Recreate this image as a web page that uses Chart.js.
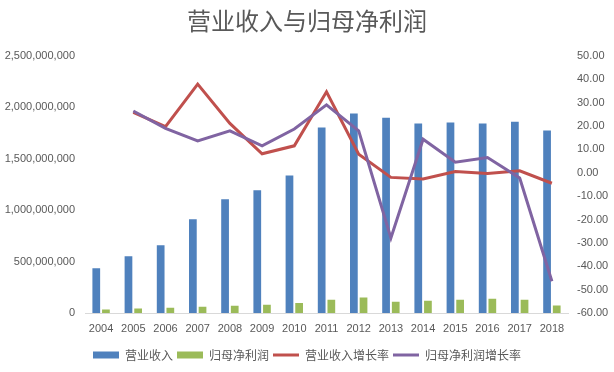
<!DOCTYPE html>
<html>
<head>
<meta charset="utf-8">
<title>营业收入与归母净利润</title>
<script src="https://cdn.jsdelivr.net/npm/chart.js@4"></script>
<style>
    html, body { margin: 0; padding: 0; background: #ffffff; }
    .chart-box { width: 614px; height: 372px; position: relative; }
</style>
</head>
<body>
<div class="chart-box"><canvas id="revenue-chart"></canvas></div>
<script>
// Chart data
const years = ['2004', '2005', '2006', '2007', '2008', '2009', '2010', '2011',
    '2012', '2013', '2014', '2015', '2016', '2017', '2018'];

// 营业收入 (yuan)
const revenue = [436e6, 552e6, 659e6, 911e6, 1105e6, 1192e6, 1337e6, 1802e6,
    1938e6, 1899e6, 1841e6, 1851e6, 1841e6, 1860e6, 1773e6];

// 归母净利润 (yuan)
const netProfit = [35e6, 44e6, 52e6, 61e6, 70e6, 80e6, 97e6, 130e6,
    150e6, 110e6, 120e6, 128e6, 139e6, 130e6, 72e6];

// 营业收入增长率 (%)
const revenueGrowth = [null, 25.8, 19.7, 37.9, 21.1, 8.1, 11.5, 34.6,
    7.9, -2.0, -2.7, 0.5, -0.3, 0.8, -4.5];

// 归母净利润增长率 (%)
const profitGrowth = [null, 26.4, 19.0, 13.6, 17.9, 11.5, 18.7, 29.0,
    17.9, -27.9, 14.3, 4.5, 6.5, -2.3, -46.4];

const TEXT_COLOR = '#595959';
const TICK_FONT = { family: "'Liberation Sans', Arial, sans-serif", size: 11 };
const CJK_FONT = "'Noto Sans CJK SC', 'Liberation Sans', sans-serif";

/**
 * Add thousands separators
 */
function withCommas(value) {
    return String(Math.round(value)).replace(/\B(?=(\d{3})+(?!\d))/g, ',');
}

/**
 * Render the combined bar / line chart
 */
function renderChart() {
    const ctx = document.getElementById('revenue-chart');
    if (!ctx) return;

    new Chart(ctx, {
        type: 'bar',
        data: {
            labels: years,
            datasets: [
                {
                    label: '营业收入',
                    data: revenue,
                    backgroundColor: '#4f81bd',
                    yAxisID: 'y',
                    pointStyle: 'rect'
                },
                {
                    label: '归母净利润',
                    data: netProfit,
                    backgroundColor: '#9bbb59',
                    yAxisID: 'y',
                    pointStyle: 'rect'
                },
                {
                    type: 'line',
                    label: '营业收入增长率',
                    data: revenueGrowth,
                    borderColor: '#c0504d',
                    backgroundColor: '#c0504d',
                    borderWidth: 3,
                    tension: 0,
                    pointRadius: 0,
                    pointStyle: 'line',
                    yAxisID: 'y1',
                    order: -1
                },
                {
                    type: 'line',
                    label: '归母净利润增长率',
                    data: profitGrowth,
                    borderColor: '#8064a2',
                    backgroundColor: '#8064a2',
                    borderWidth: 3,
                    tension: 0,
                    pointRadius: 0,
                    pointStyle: 'line',
                    yAxisID: 'y1',
                    order: -2
                }
            ]
        },
        options: {
            responsive: true,
            maintainAspectRatio: false,
            animation: false,
            datasets: {
                bar: {
                    categoryPercentage: 0.6,
                    barPercentage: 0.8
                }
            },
            layout: {
                padding: { left: 0, right: 0, top: 0, bottom: 1 }
            },
            plugins: {
                title: {
                    display: true,
                    text: '营业收入与归母净利润',
                    color: TEXT_COLOR,
                    font: { family: CJK_FONT, size: 24, weight: 'normal' },
                    padding: { top: 6, bottom: 21 }
                },
                legend: {
                    position: 'bottom',
                    labels: {
                        usePointStyle: true,
                        pointStyleWidth: 26,
                        boxHeight: 7,
                        padding: 4,
                        color: TEXT_COLOR,
                        font: { family: CJK_FONT, size: 12 },
                        sort: (a, b) => a.datasetIndex - b.datasetIndex
                    }
                },
                tooltip: { enabled: false }
            },
            scales: {
                x: {
                    grid: { display: false, drawTicks: false },
                    border: { display: true, color: '#d9d9d9', width: 1 },
                    ticks: {
                        color: TEXT_COLOR,
                        font: TICK_FONT,
                        padding: 9,
                        maxRotation: 0,
                        autoSkip: false
                    },
                    afterFit: (scale) => { scale.height = 32; }
                },
                y: {
                    position: 'left',
                    min: 0,
                    max: 2500000000,
                    grid: { display: false, drawTicks: false },
                    border: { display: false },
                    ticks: {
                        stepSize: 500000000,
                        color: TEXT_COLOR,
                        font: TICK_FONT,
                        padding: 10,
                        callback: (value) => withCommas(value)
                    },
                    afterFit: (scale) => { scale.width = 85; }
                },
                y1: {
                    position: 'right',
                    min: -60,
                    max: 50,
                    grid: { display: false, drawTicks: false },
                    border: { display: false },
                    ticks: {
                        stepSize: 10,
                        color: TEXT_COLOR,
                        font: TICK_FONT,
                        padding: 9,
                        callback: (value) => Number(value).toFixed(2)
                    },
                    afterFit: (scale) => { scale.width = 46; }
                }
            }
        }
    });
}

document.addEventListener('DOMContentLoaded', renderChart);
</script>
</body>
</html>
